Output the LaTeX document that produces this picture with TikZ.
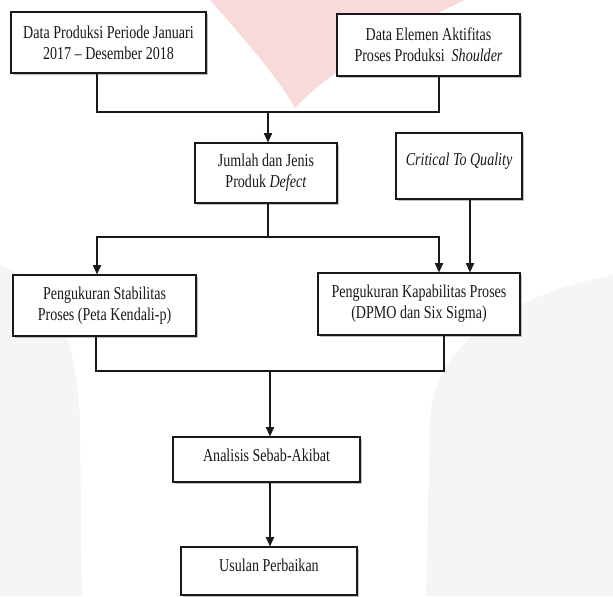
\documentclass[tikz,border=0pt]{standalone}
\usepackage{fontspec}
\setmainfont{Liberation Serif}[FakeStretch=0.775]
\usetikzlibrary{calc,shadows,arrows.meta}

\definecolor{markpink}{RGB}{249,218,218}
\definecolor{markgray}{RGB}{245,245,245}
\definecolor{ink}{RGB}{25,25,25}

\begin{document}
\begin{tikzpicture}[x=0.75pt,y=-0.75pt,
    flowbox/.style={draw=ink,line width=0.9pt,fill=white,inner sep=0pt,align=center,
        text=ink,font=\fontsize{13.6}{15.75}\selectfont,
        drop shadow={shadow xshift=1.4pt,shadow yshift=-1.6pt,fill=black!55,opacity=.45}},
    wire/.style={draw=ink,line width=0.9pt},
    feed/.style={wire,-{Triangle[length=7pt,width=6.2pt]}}]
        \useasboundingbox (0,0) rectangle (613,596);
        % faint watermark behind the chart
        \fill[markpink] (210,0) .. controls (245,40) and (280,80) .. (295,108)
            .. controls (330,70) and (400,30) .. (465,0) -- cycle;
        \fill[markgray] (0,265) .. controls (40,280) and (75,310) .. (80,420) -- (82,596) -- (0,596) -- cycle;
        \fill[markgray] (613,275) .. controls (560,285) and (435,320) .. (430,420) -- (426,596) -- (613,596) -- cycle;

        \node[flowbox,minimum width=146.25pt,minimum height=45.75pt] (data) at (108.5,42.5)
            {Data Produksi Periode Januari\\2017 -- Desember 2018};
        \node[flowbox,minimum width=137.25pt,minimum height=46.5pt] (elemen) at (428.5,45)
            {Data Elemen Aktifitas\\Proses Produksi\ \ \textit{Shoulder}};
        \node[flowbox,minimum width=106.5pt,minimum height=45pt] (defect) at (266,173)
            {Jumlah dan Jenis\\Produk \textit{Defect}};
        \node[flowbox,minimum width=94.5pt,minimum height=49.5pt,text depth=10.8pt] (ctq) at (459,166)
            {\textit{Critical To Quality}};
        \node[flowbox,minimum width=137.25pt,minimum height=45.75pt] (stabil) at (104.5,305.5)
            {Pengukuran Stabilitas\\Proses (Peta Kendali-p)};
        \node[flowbox,minimum width=151.5pt,minimum height=46.5pt] (kapab) at (419,304)
            {Pengukuran Kapabilitas Proses\\(DPMO dan Six Sigma)};
        \node[flowbox,minimum width=140.25pt,minimum height=33.75pt,text depth=6.8pt] (sebab) at (266.5,459.5)
            {Analisis Sebab-Akibat};
        \node[flowbox,minimum width=132pt,minimum height=36pt,text depth=9pt] (usulan) at (269,571)
            {Usulan Perbaikan};

        % joins
        \coordinate (bus1) at (268,112);
        \coordinate (bus2) at (268,237);
        \coordinate (bus2l) at (97,237);
        \coordinate (bus2r) at (439,237);
        \coordinate (ctqout) at ($(ctq.south)+(11,0)$);
        \coordinate (bus3) at (270,371);

        \draw[wire] ($(data.south)+(-11.5,0)$) |- (bus1) -| ($(elemen.south)+(10.5,0)$);
        \draw[feed] (bus1) -- (defect.north -| bus1);
        \draw[wire] (defect.south -| bus2) -- (bus2);
        \draw[feed] (bus2) -| (stabil.north -| bus2l);
        \draw[feed] (bus2) -| (kapab.north -| bus2r);
        \draw[feed] (ctqout) -- (kapab.north -| ctqout);
        \draw[wire] ($(stabil.south)+(-8.5,0)$) |- (bus3) -| ($(kapab.south)+(25,0)$);
        \draw[feed] (bus3) -- (sebab.north -| bus3);
        \draw[feed] (sebab.south -| bus3) -- (usulan.north -| bus3);
    \end{tikzpicture}
\end{document}
